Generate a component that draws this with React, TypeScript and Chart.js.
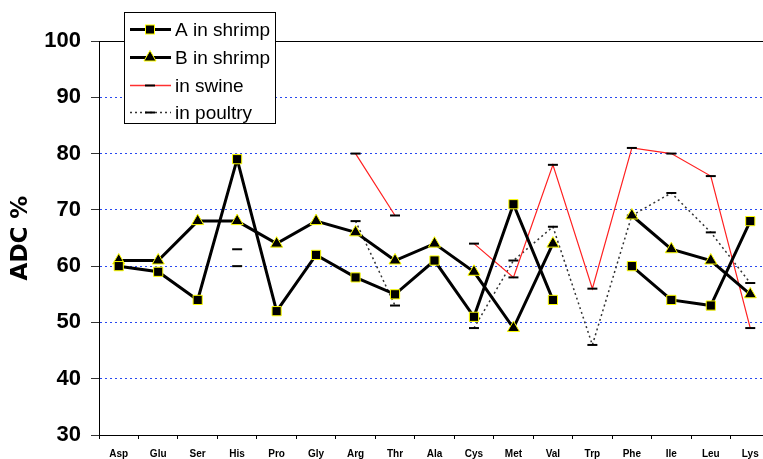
import React, { useEffect, useRef } from "react";
import { Chart, registerables } from "chart.js";

Chart.register(...registerables);

const categories = ["Asp", "Glu", "Ser", "His", "Pro", "Gly", "Arg", "Thr", "Ala", "Cys", "Met", "Val", "Trp", "Phe", "Ile", "Leu", "Lys"];
const shrimpA = [60, 59, 54, 79, 52, 62, 58, 55, 61, 51, 71, 54, null, 60, 54, 53, 68];
const shrimpB = [61, 61, 68, 68, 64, 68, 66, 61, 64, 59, 49, 64, null, 69, 63, 61, 55];
const swine = [null, null, null, 63, null, null, 80, 69, null, 64, 58, 78, 56, 81, 80, 76, 49];
const poultry = [null, null, null, 60, null, null, 68, 53, null, 49, 61, 67, 46, 69, 73, 66, 57];
const legendLabels = ["A in shrimp", "B in shrimp", "in swine", "in poultry"];
const yTitle = "ADC %";

const FONT = "'Liberation Sans', Arial, sans-serif";
const TITLE_FONT = "'DejaVu Sans', Verdana, sans-serif";
const NARROW = "'Liberation Sans Narrow', 'Arial Narrow', 'Liberation Sans', Arial, sans-serif";

const legendPlugin = {
  id: "boxLegend",
  afterDraw(chart: any) {
    const ctx = chart.ctx as CanvasRenderingContext2D;
    const x0 = 124.5, y0 = 12.5, w = 151, h = 111;
    ctx.save();
    ctx.fillStyle = "#ffffff";
    ctx.fillRect(x0, y0, w, h);
    ctx.strokeStyle = "#000";
    ctx.lineWidth = 1;
    ctx.setLineDash([]);
    ctx.strokeRect(x0, y0, w, h);
    const rows = [29.5, 57.5, 85.5, 112.5];
    const lx1 = 130, lx2 = 171, mx = 150;
    rows.forEach((cy, i) => {
      ctx.save();
      if (i === 0 || i === 1) {
        ctx.strokeStyle = "#000";
        ctx.lineWidth = 3;
        ctx.beginPath();
        ctx.moveTo(lx1, cy);
        ctx.lineTo(lx2, cy);
        ctx.stroke();
        ctx.fillStyle = "#000";
        ctx.strokeStyle = "#ffff00";
        ctx.lineWidth = 1;
        if (i === 0) {
          ctx.fillRect(mx - 4.5, cy - 4.5, 9, 9);
          ctx.strokeRect(mx - 4.5, cy - 4.5, 9, 9);
        } else {
          const r = 7;
          ctx.beginPath();
          ctx.moveTo(mx, cy - r);
          ctx.lineTo(mx + r * 0.866, cy + r / 2);
          ctx.lineTo(mx - r * 0.866, cy + r / 2);
          ctx.closePath();
          ctx.fill();
          ctx.stroke();
        }
      } else {
        if (i === 2) {
          ctx.strokeStyle = "#ff3030";
          ctx.lineWidth = 1.6;
        } else {
          ctx.strokeStyle = "#333";
          ctx.lineWidth = 1.5;
          ctx.setLineDash([2, 3]);
        }
        ctx.beginPath();
        ctx.moveTo(lx1, cy);
        ctx.lineTo(lx2, cy);
        ctx.stroke();
        ctx.setLineDash([]);
        ctx.strokeStyle = "#000";
        ctx.lineWidth = 2;
        ctx.beginPath();
        ctx.moveTo(mx - 5, cy);
        ctx.lineTo(mx + 5, cy);
        ctx.stroke();
      }
      ctx.restore();
      ctx.fillStyle = "#000";
      ctx.font = `19px ${FONT}`;
      ctx.textBaseline = "middle";
      ctx.textAlign = "left";
      ctx.fillText(legendLabels[i], 175, cy + 1);
    });
    ctx.restore();
  },
};

export default function App() {
  const ref = useRef<HTMLCanvasElement | null>(null);
  useEffect(() => {
    if (!ref.current) return;
    const chart = new Chart(ref.current, {
      type: "line",
      data: {
        labels: categories,
        datasets: [
          {
            label: legendLabels[0],
            data: shrimpA,
            borderColor: "#000",
            borderWidth: 3,
            pointStyle: "rect",
            pointRadius: 6.5,
            pointBackgroundColor: "#000",
            pointBorderColor: "#ffff00",
            pointBorderWidth: 1,
            spanGaps: false,
            tension: 0,
          },
          {
            label: legendLabels[1],
            data: shrimpB,
            borderColor: "#000",
            borderWidth: 3,
            pointStyle: "triangle",
            pointRadius: 7,
            pointBackgroundColor: "#000",
            pointBorderColor: "#ffff00",
            pointBorderWidth: 1,
            spanGaps: false,
            tension: 0,
          },
          {
            label: legendLabels[2],
            data: swine,
            borderColor: "#ff2020",
            borderWidth: 1.2,
            pointStyle: "line",
            pointRadius: 5,
            pointBorderColor: "#000",
            pointBorderWidth: 2,
            spanGaps: false,
            tension: 0,
          },
          {
            label: legendLabels[3],
            data: poultry,
            borderColor: "#333",
            borderWidth: 1.5,
            borderDash: [2, 3],
            pointStyle: "line",
            pointRadius: 5,
            pointBorderColor: "#000",
            pointBorderWidth: 2,
            spanGaps: false,
            tension: 0,
          },
        ],
      },
      options: {
        responsive: false,
        maintainAspectRatio: false,
        animation: false,
        layout: { padding: { top: 41, left: 0, right: 10, bottom: 0 } },
        plugins: { legend: { display: false }, tooltip: { enabled: false } },
        scales: {
          x: {
            type: "category",
            offset: true,
            grid: { offset: true, drawOnChartArea: false, drawTicks: true, tickLength: 4, color: "#000", tickColor: "#000" },
            border: { color: "#000", width: 1 },
            ticks: { autoSkip: false, maxRotation: 0, color: "#000", padding: 9, font: { family: NARROW, size: 10, weight: "bold" } },
            afterFit: (s: any) => { s.height = 24; },
          },
          y: {
            min: 30,
            max: 100,
            ticks: { stepSize: 10, color: "#000", padding: 10, font: { family: FONT, size: 22, weight: "bold" } },
            grid: {
              color: (c: any) => (c.tick && (c.tick.value === 100 || c.tick.value === 30) ? "#000" : "#2848f0"),
              lineWidth: 1,
              tickColor: "#333",
              tickLength: 8,
              drawTicks: true,
            },
            border: {
              color: "#000",
              width: 1,
              dash: (c: any) => (c.tick && (c.tick.value === 100 || c.tick.value === 30) ? [] : [2, 3]),
            },
            title: {
              display: true,
              text: yTitle,
              color: "#000",
              padding: { top: 7, bottom: 0 },
              font: { family: TITLE_FONT, size: 23, weight: "bold" },
            },
            afterFit: (s: any) => { s.width = 99; },
          },
        },
      },
      plugins: [legendPlugin],
    } as any);
    return () => chart.destroy();
  }, []);
  return (
    <div style={{ position: "fixed", left: 0, top: 0, width: 763, height: 459, overflow: "hidden", background: "#fff" }}>
      <canvas ref={ref} width={780} height={459} style={{ width: 780, height: 459, display: "block" }} />
    </div>
  );
}
